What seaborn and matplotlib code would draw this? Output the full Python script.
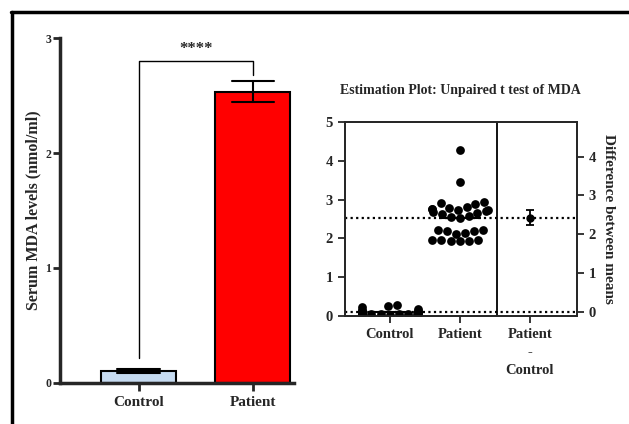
import numpy as np
import pandas as pd
import seaborn as sns
import matplotlib
matplotlib.use("Agg")
from matplotlib import pyplot as plt
from matplotlib.lines import Line2D

# Data
groups = ["Control", "Patient"]
control_mda = [0.22, 0.18, 0.28, 0.25, 0.15, 0.12, 0.10, 0.08, 0.07, 0.06,
               0.05, 0.05, 0.04, 0.04, 0.03, 0.12, 0.10, 0.08, 0.06, 0.05]
patient_mda = [4.27, 3.45, 2.93, 2.92, 2.88, 2.80, 2.78, 2.76, 2.75, 2.74,
               2.72, 2.70, 2.68, 2.65, 2.62, 2.58, 2.55, 2.52, 2.22, 2.22,
               2.20, 2.18, 2.15, 2.12, 1.97, 1.95, 1.95, 1.93, 1.93, 1.92]
bar_colors = ["#c6dbf1", "#ff0000"]
diff_labels = ["Control", "Patient", "Patient\n-\nControl"]

df = pd.DataFrame({
    "Group": ["Control"] * len(control_mda) + ["Patient"] * len(patient_mda),
    "MDA": control_mda + patient_mda,
})

sns.set_style("ticks")
plt.rcParams["font.family"] = ["Liberation Serif", "DejaVu Serif"]
plt.rcParams["font.weight"] = "bold"

fig = plt.figure(figsize=(6.29, 4.24), dpi=100)

# ---- left: bar chart ----
ax = fig.add_axes([0.095, 0.097, 0.372, 0.813])
sns.barplot(data=df, x="Group", y="MDA", hue="Group", order=groups,
            palette=bar_colors, saturation=1, errorbar="se", capsize=0.37,
            width=0.66, edgecolor="black", linewidth=1.5, legend=False,
            err_kws={"color": "black", "linewidth": 1.5}, ax=ax)
ax.set_ylim(0, 3)
ax.set_xlim(-0.69, 1.36)
ax.set_yticks([0, 1, 2, 3])
ax.set_xlabel("")
ax.set_ylabel("Serum MDA levels (nmol/ml)", fontsize=11.5, fontweight="bold", labelpad=3)
ax.tick_params(axis="y", labelsize=8.5, width=2, length=5, pad=1)
ax.tick_params(axis="x", labelsize=11, width=2, length=6)
for s in ["left", "bottom"]:
    ax.spines[s].set_linewidth(2.5)
sns.despine(ax=ax)
# significance bracket
ax.plot([0, 0, 1, 1], [0.22, 2.8, 2.8, 2.68], color="black", lw=1)
ax.text(0.5, 2.84, "****", ha="center", va="bottom", fontsize=12)

# ---- right: estimation plot ----
cmean = np.mean(control_mda)
pmean = np.mean(patient_mda)
diff = pmean - cmean
se = np.sqrt(np.var(control_mda, ddof=1) / len(control_mda)
             + np.var(patient_mda, ddof=1) / len(patient_mda))
ci = 2.0 * se

ax1 = fig.add_axes([0.548, 0.255, 0.369, 0.457])
sns.swarmplot(data=df, x="Group", y="MDA", order=groups, color="black",
              size=6.3, ax=ax1)
ax1.axhline(cmean, color="black", ls=(0, (1, 1.5)), lw=1.6)
ax1.axhline(pmean, color="black", ls=(0, (1, 1.5)), lw=1.6)
ax1.hlines([cmean, pmean], [-0.3, 0.7], [0.3, 1.3], color="black", lw=1.5)
ax1.axvline(1.53, color="black", lw=1.3)
ax1.set_xlim(-0.643, 2.67)
ax1.set_ylim(0, 5)
ax1.set_xticks([0, 1, 2])
ax1.set_xticklabels(diff_labels, linespacing=1.5)
ax1.set_xlabel("")
ax1.set_ylabel("")
ax1.tick_params(axis="both", labelsize=10.5, width=1.3, length=5)
for s in ax1.spines.values():
    s.set_linewidth(1.3)
ax1.set_title("Estimation Plot: Unpaired t test of MDA", fontsize=10,
              fontweight="bold", pad=20)

ax2 = ax1.twinx()
ax2.set_ylim(0 - cmean, 5 - cmean)
ax2.errorbar([2], [diff], yerr=[ci], fmt="o", color="black", ms=5,
             capsize=3, elinewidth=1.3, capthick=1.3)
ax2.set_yticks([0, 1, 2, 3, 4])
ax2.tick_params(axis="y", labelsize=10.5, width=1.3, length=5)
ax2.set_ylabel("Difference between means", fontsize=11, fontweight="bold",
               rotation=270, labelpad=14)
for s in ax2.spines.values():
    s.set_linewidth(1.3)

# outer frame (top and left edges only)
fig.add_artist(Line2D([0.018, 1.0], [0.972, 0.972], color="black", lw=2.5,
                      transform=fig.transFigure))
fig.add_artist(Line2D([0.019, 0.019], [0.0, 0.972], color="black", lw=2.5,
                      transform=fig.transFigure))

fig.savefig("out.png", dpi=100)
